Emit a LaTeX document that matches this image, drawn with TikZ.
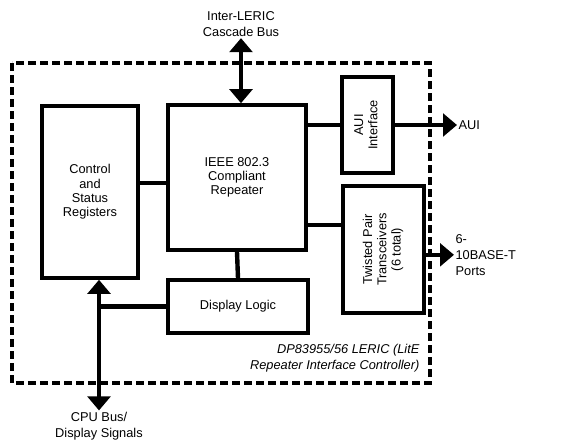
\documentclass[tikz,border=0pt]{standalone}
\usepackage{fontspec}
\setmainfont{Liberation Sans}
\usetikzlibrary{arrows.meta, positioning, calc}

\begin{document}
\begin{tikzpicture}[x=0.75pt, y=-0.75pt, font=\fontsize{9.6}{10.7}\selectfont,
        blk/.style={rectangle, draw, line width=2.7pt, align=center, inner sep=0pt},
        link/.style={line width=3.3pt},
        bus/.style={line width=3.3pt, -{Triangle[length=10.5pt, width=17pt]}},
        dbus/.style={line width=3.3pt, {Triangle[length=10.5pt, width=17pt]}-{Triangle[length=10.5pt, width=17pt]}},
        lbl/.style={align=center, inner sep=1pt, font=\fontsize{9.6}{12}\selectfont}]
    \useasboundingbox (0,0) rectangle (562,440);
    % LERIC chip outline
    \draw[line width=2.5pt, dash pattern=on 6pt off 3pt] (12,63) rectangle (430,383);
    \node[blk, minimum width=72pt, minimum height=129pt] (csr) at (90,192) {Control\\and\\Status\\Registers};
    \node[blk, minimum width=103.5pt, minimum height=108.75pt] (ieee) at (237,177.5) {IEEE 802.3\\Compliant\\Repeater};
    \node[blk, minimum width=38.25pt, minimum height=72pt] (aui) at (367.5,125)
        {\rotatebox{90}{\begin{tabular}{@{}c@{}}AUI\\Interface\end{tabular}}};
    \node[blk, minimum width=60.75pt, minimum height=95.25pt] (tp) at (383.5,249.5)
        {\rotatebox{90}{\begin{tabular}{@{}c@{}}Twisted Pair\\Transceivers\\(6 total)\end{tabular}}};
    \node[blk, minimum width=105pt, minimum height=39.75pt] (disp) at (238,306.5) {Display Logic};
    \node[lbl, align=right, anchor=east, font=\fontsize{9.6}{12}\selectfont\itshape] (chip) at (421,358)
        {DP83955/56 LERIC (LitE\\Repeater Interface Controller)};
    % internal links
    \draw[link] (ieee.south) -- (disp.north);
    \draw[link] (aui.west) -- (aui.west -| ieee.east);
    \coordinate (csrlink) at ([yshift=-4pt]ieee.west);
    \draw[link] (csrlink) -- (csrlink -| csr.east);
    \coordinate (tplink) at ([yshift=18.4pt]tp.west);
    \draw[link] (tplink) -- (tplink -| ieee.east);
    % external buses
    \node[lbl, anchor=west] (auiout) at (457,125) {AUI};
    \draw[bus] (aui.east) -- (auiout.west);
    \node[lbl, anchor=west, align=left] (ports) at (454,255) {6-\\10BASE-T\\Ports};
    \coordinate (tpout) at ([yshift=-4pt]tp.east);
    \draw[bus] (tpout) -- (tpout -| ports.west);
    \node[lbl] (casc) at (241,24) {Inter-LERIC\\Cascade Bus};
    \draw[dbus] (casc.south) -- (casc.south |- ieee.north);
    \node[lbl] (cpu) at (99,426) {CPU Bus/\\Display Signals};
    \draw[dbus] (cpu.north) -- (cpu.north |- csr.south);
    \draw[link] (disp.west) -- (disp.west -| cpu.north);
\end{tikzpicture}
\end{document}
